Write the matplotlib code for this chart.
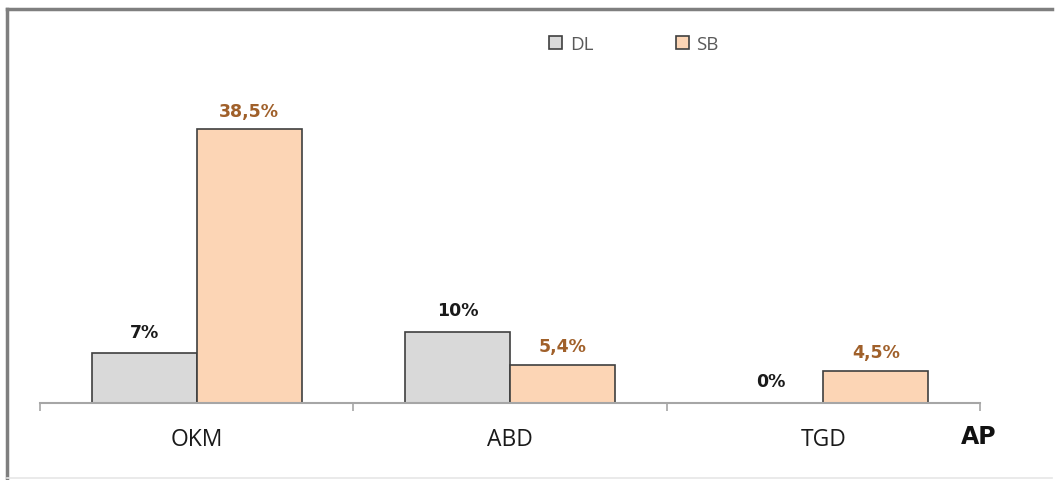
import matplotlib.pyplot as plt
from matplotlib.lines import Line2D
import numpy as np

categories = ["OKM", "ABD", "TGD"]
series_names = ["DL", "SB"]
dl_values = [7.0, 10.0, 0.0]
sb_values = [38.5, 5.4, 4.5]
dl_labels = ["7%", "10%", "0%"]
sb_labels = ["38,5%", "5,4%", "4,5%"]
axis_title = "AP"

fig = plt.figure(figsize=(10.55, 4.81), dpi=100)
ax = fig.add_axes([40 / 1055, 77 / 481, 940 / 1055, 320 / 481])

x = np.arange(len(categories))
w = 0.335
dl_fill, sb_fill = "#D9D9D9", "#FCD5B5"
edge = "#3F3F3F"
sb_text = "#A0602A"

ax.bar(x - w / 2, dl_values, w, color=dl_fill, edgecolor=edge, linewidth=1.2,
       label=series_names[0])
ax.bar(x + w / 2, sb_values, w, color=sb_fill, edgecolor=edge, linewidth=1.2,
       label=series_names[1])

for xi, v, t in zip(x - w / 2, dl_values, dl_labels):
    ax.annotate(t, (xi, v), xytext=(0, 9), textcoords="offset points",
                ha="center", va="bottom", fontsize=12.5, fontweight="bold",
                color="#1a1a1a", family="DejaVu Sans")
for xi, v, t in zip(x + w / 2, sb_values, sb_labels):
    ax.annotate(t, (xi, v), xytext=(0, 7), textcoords="offset points",
                ha="center", va="bottom", fontsize=12.5, fontweight="bold",
                color=sb_text, family="DejaVu Sans")

ax.set_xlim(-0.5, len(categories) - 0.5)
ax.set_ylim(0, 45)
for s in ["left", "right", "top"]:
    ax.spines[s].set_visible(False)
ax.spines["bottom"].set_color("#A6A6A6")
ax.spines["bottom"].set_linewidth(1.5)
ax.set_yticks([])
ax.set_xticks(x)
ax.set_xticklabels(categories, fontsize=16.5, family="Open Sans", color="#1a1a1a")
ax.tick_params(axis="x", which="major", length=0, pad=17)
ax.set_xticks(np.arange(-0.5, len(categories)), minor=True)
ax.tick_params(axis="x", which="minor", length=6, width=1.2, color="#A6A6A6")

fig.text(979 / 1055, 1 - 437 / 481, axis_title, ha="center", va="center",
         fontsize=17, fontweight="bold", family="DejaVu Sans", color="#111111")

ax.legend(loc="center", bbox_to_anchor=(634 / 1055, 1 - 45 / 481),
          bbox_transform=fig.transFigure, ncol=2, frameon=False,
          handlelength=0.7, handleheight=0.7, handletextpad=0.4,
          columnspacing=4.4, prop={"family": "Open Sans", "size": 13.5},
          labelcolor="#595959")

# outer frame
fig.add_artist(Line2D([7 / 1055, 7 / 1055], [0, 1 - 10 / 481], transform=fig.transFigure,
                      color="#7F7F7F", linewidth=2.5))
fig.add_artist(Line2D([7 / 1055, 1052 / 1055], [1 - 10 / 481, 1 - 10 / 481],
                      transform=fig.transFigure, color="#7F7F7F", linewidth=2.5))
fig.add_artist(Line2D([7 / 1055, 1052 / 1055], [1 - 479 / 481, 1 - 479 / 481],
                      transform=fig.transFigure, color="#E6E6E6", linewidth=1.2))

fig.savefig("out.png", dpi=100)
